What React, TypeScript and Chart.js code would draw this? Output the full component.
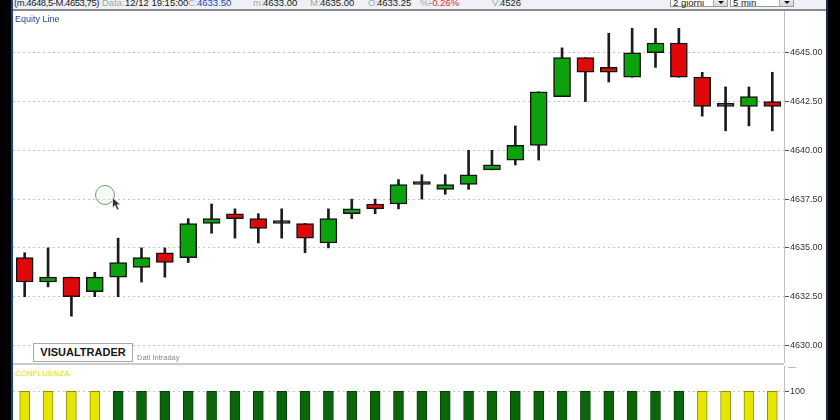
import React, { useEffect, useRef } from "react";
import { Chart, registerables } from "chart.js";

Chart.register(...registerables);

// ---- DATA ----
const times = [
  "19:10", "19:15", "19:20", "19:25", "19:30", "19:35", "19:40", "19:45", "19:50", "19:55",
  "20:00", "20:05", "20:10", "20:15", "20:20", "20:25", "20:30", "20:35", "20:40", "20:45",
  "20:50", "20:55", "21:00", "21:05", "21:10", "21:15", "21:20", "21:25", "21:30", "21:35",
  "21:40", "21:45", "21:50",
];
const openPrices = [
  4634.5, 4633.25, 4633.5, 4632.75, 4633.5, 4634.0, 4634.75, 4634.5, 4636.25, 4636.75,
  4636.5, 4636.25, 4636.25, 4635.25, 4636.75, 4637.25, 4637.25, 4638.25, 4638.0, 4638.25,
  4639.0, 4639.5, 4640.25, 4642.75, 4644.75, 4644.25, 4643.75, 4645.0, 4645.5, 4643.75,
  4642.25, 4642.25, 4642.5,
];
const highPrices = [
  4634.75, 4635.0, 4633.5, 4633.75, 4635.5, 4635.0, 4635.0, 4636.5, 4637.25, 4637.0,
  4636.75, 4637.0, 4636.25, 4637.0, 4637.5, 4637.5, 4638.5, 4638.75, 4638.75, 4640.0,
  4640.0, 4641.25, 4643.0, 4645.25, 4644.75, 4646.0, 4646.25, 4646.25, 4646.25, 4644.0,
  4643.25, 4643.25, 4644.0,
];
const lowPrices = [
  4632.5, 4633.0, 4631.5, 4632.5, 4632.5, 4633.25, 4633.5, 4634.25, 4635.75, 4635.5,
  4635.25, 4635.5, 4634.75, 4635.0, 4636.5, 4636.75, 4637.0, 4637.5, 4637.75, 4638.0,
  4639.0, 4639.25, 4639.5, 4642.75, 4642.5, 4643.5, 4643.75, 4644.25, 4643.75, 4641.75,
  4641.0, 4641.25, 4641.0,
];
const closePrices = [
  4633.25, 4633.5, 4632.5, 4633.5, 4634.25, 4634.5, 4634.25, 4636.25, 4636.5, 4636.5,
  4636.0, 4636.25, 4635.5, 4636.5, 4637.0, 4637.0, 4638.25, 4638.25, 4638.25, 4638.75,
  4639.25, 4640.25, 4643.0, 4644.75, 4644.0, 4644.0, 4645.0, 4645.5, 4643.75, 4642.25,
  4642.25, 4642.75, 4642.25,
];
const priceTicks = [4630, 4632.5, 4635, 4637.5, 4640, 4642.5, 4645];
const confluenzaValues = [
  100, 100, 100, 100, 100, 100, 100, 100, 100, 100, 100, 100, 100, 100, 100, 100, 100,
  100, 100, 100, 100, 100, 100, 100, 100, 100, 100, 100, 100, 100, 100, 100, 100,
];
// N = neutral, L = long
const confluenzaSignal = [
  "N", "N", "N", "N", "L", "L", "L", "L", "L", "L", "L", "L", "L", "L", "L", "L", "L",
  "L", "L", "L", "L", "L", "L", "L", "L", "L", "L", "L", "L", "N", "N", "N", "N",
];
const confluenzaTicks = [100];

const FONT = "'Liberation Sans', Arial, sans-serif";

const fitRight = (s: any) => {
  s.width = 44;
  s.paddingTop = 0;
  s.paddingBottom = 0;
};

function MainChart() {
  const ref = useRef<HTMLCanvasElement | null>(null);
  useEffect(() => {
    if (!ref.current) return;
    const bodyColors = openPrices.map((o, i) =>
      closePrices[i] > o ? "#0ca20c" : closePrices[i] < o ? "#e00808" : "#1a1a1a"
    );
    const chart = new Chart(ref.current, {
      type: "bar",
      data: {
        labels: times,
        datasets: [
          {
            label: "body",
            data: openPrices.map((o, i) => [o, closePrices[i]]) as any,
            backgroundColor: bodyColors,
            borderColor: "#141414",
            borderWidth: 1.5,
            borderSkipped: false,
            barThickness: 17,
            minBarLength: 3,
            grouped: false,
            order: 0,
          },
          {
            label: "wick",
            data: lowPrices.map((l, i) => [l, highPrices[i]]) as any,
            backgroundColor: "#1c1c1c",
            borderWidth: 0,
            barThickness: 2,
            grouped: false,
            order: 1,
          },
        ],
      },
      options: {
        animation: false,
        responsive: false,
        maintainAspectRatio: false,
        events: [],
        layout: { padding: 0 },
        plugins: { legend: { display: false }, tooltip: { enabled: false } },
        scales: {
          x: { display: false, offset: true },
          y: {
            position: "right",
            min: 4629.1,
            max: 4647.14,
            afterFit: fitRight,
            afterBuildTicks: (s: any) => {
              s.ticks = priceTicks.map((v) => ({ value: v }));
            },
            ticks: {
              callback: (v: any) => Number(v).toFixed(2),
              color: "#333",
              font: { family: FONT, size: 9 },
              padding: 1,
            },
            grid: {
              color: "#c4c4c4",
              lineWidth: 1,
              tickColor: "#555",
              tickLength: 5,
              tickWidth: 1,
            },
            border: { display: true, color: "#c0c0c0", dash: [2, 3] },
          },
        },
      },
    });
    return () => chart.destroy();
  }, []);
  return (
    <canvas
      ref={ref}
      width={815}
      height={352}
      style={{ position: "absolute", left: 13, top: 11, width: 815, height: 352 }}
    />
  );
}

function ConfluenzaChart() {
  const ref = useRef<HTMLCanvasElement | null>(null);
  useEffect(() => {
    if (!ref.current) return;
    const chart = new Chart(ref.current, {
      type: "bar",
      data: {
        labels: times,
        datasets: [
          {
            label: "CONFLUENZA",
            data: confluenzaValues,
            backgroundColor: confluenzaSignal.map((s) => (s === "N" ? "#e6e600" : "#0b650b")),
            borderColor: confluenzaSignal.map((s) => (s === "N" ? "#8e8e00" : "#044204")),
            borderWidth: 1,
            borderSkipped: false,
            barThickness: 10,
          },
        ],
      },
      options: {
        animation: false,
        responsive: false,
        maintainAspectRatio: false,
        events: [],
        layout: { padding: 0 },
        plugins: { legend: { display: false }, tooltip: { enabled: false } },
        scales: {
          x: { display: false, offset: true },
          y: {
            position: "right",
            min: 0,
            max: 134,
            afterFit: fitRight,
            afterBuildTicks: (s: any) => {
              s.ticks = confluenzaTicks.map((v) => ({ value: v }));
            },
            ticks: {
              callback: (v: any) => String(v),
              color: "#333",
              font: { family: FONT, size: 9 },
              padding: 1,
            },
            grid: {
              color: "#c4c4c4",
              lineWidth: 1,
              tickColor: "#555",
              tickLength: 5,
              tickWidth: 1,
            },
            border: { display: true, color: "#c0c0c0", dash: [2, 3] },
          },
        },
      },
    });
    return () => chart.destroy();
  }, []);
  return (
    <canvas
      ref={ref}
      width={815}
      height={100}
      style={{ position: "absolute", left: 13, top: 366, width: 815, height: 100 }}
    />
  );
}

const hdr = (left: number, text: string, color: string, ls = 0) => (
  <span
    key={left}
    style={{
      position: "absolute",
      left,
      top: -2,
      fontSize: 9.5,
      lineHeight: "10px",
      color,
      whiteSpace: "nowrap",
      letterSpacing: ls,
    }}
  >
    {text}
  </span>
);

function Dropdown({ left, width, label }: { left: number; width: number; label: string }) {
  return (
    <div
      style={{
        position: "absolute",
        left,
        top: -4,
        width,
        height: 11,
        background: "#fff",
        border: "1px solid #9a9a9a",
        boxSizing: "border-box",
      }}
    >
      <span style={{ position: "absolute", left: 2, top: 1, fontSize: 9.5, lineHeight: "10px", color: "#222" }}>
        {label}
      </span>
      <div
        style={{
          position: "absolute",
          right: 0,
          top: 0,
          width: 13,
          height: 9,
          background: "linear-gradient(#f4f4f4,#d8d8d8)",
          borderLeft: "1px solid #aaa",
        }}
      >
        <div
          style={{
            position: "absolute",
            left: 4,
            top: 4,
            width: 0,
            height: 0,
            borderLeft: "3px solid transparent",
            borderRight: "3px solid transparent",
            borderTop: "3px solid #111",
          }}
        />
      </div>
    </div>
  );
}

export default function App() {
  return (
    <div
      style={{
        position: "fixed",
        left: 0,
        top: 0,
        width: 840,
        height: 420,
        overflow: "hidden",
        background: "#fff",
        fontFamily: FONT,
      }}
    >
      {/* header */}
      <div style={{ position: "absolute", left: 11, top: 0, width: 817, height: 9, background: "#eef1f5" }}>
        {hdr(3, "(m.4648,5-M.4653,75)", "#1b1b2b", -0.45)}
        {hdr(91, "Data:", "#a8a8a8")}
        {hdr(114, "12/12 19:15:00", "#1b1b1b")}
        {hdr(177, "C:", "#a8a8a8")}
        {hdr(186, "4633.50", "#2a3fc0")}
        {hdr(242, "m:", "#a8a8a8")}
        {hdr(252, "4633.00", "#1b1b1b")}
        {hdr(299, "M:", "#a8a8a8")}
        {hdr(309, "4635.00", "#1b1b1b")}
        {hdr(357, "O:", "#a8a8a8")}
        {hdr(366, "4633.25", "#1b1b1b")}
        {hdr(409, "%:", "#a8a8a8")}
        {hdr(418, "-0.26%", "#d83434")}
        {hdr(481, "V:", "#a8a8a8")}
        {hdr(489, "4526", "#1b1b1b")}
        <Dropdown left={659} width={58} label="2 giorni" />
        <Dropdown left={719} width={64} label="5 min" />
      </div>
      <div style={{ position: "absolute", left: 11, top: 9, width: 817, height: 2, background: "#8a8a8a" }} />

      <MainChart />
      <ConfluenzaChart />

      {/* overlays */}
      <div style={{ position: "absolute", left: 15, top: 13, fontSize: 9, lineHeight: "12px", color: "#2a3fa0" }}>
        Equity Line
      </div>
      <div
        style={{
          position: "absolute",
          left: 95,
          top: 185,
          width: 20,
          height: 20,
          borderRadius: "50%",
          border: "1.5px solid #6f9f6f",
          boxSizing: "border-box",
          background: "rgba(220,235,220,0.25)",
        }}
      />
      <svg style={{ position: "absolute", left: 112, top: 197 }} width={10} height={15}>
        <polygon points="0.5,0.5 0.5,11 3,8.5 5,13 7,12 5,7.8 8.5,7.8" fill="#333" stroke="#eee" strokeWidth={0.8} />
      </svg>
      <div
        style={{
          position: "absolute",
          left: 33,
          top: 343,
          width: 100,
          height: 19,
          background: "#fff",
          border: "1px solid #a8a8a8",
          boxSizing: "border-box",
          textAlign: "center",
          fontSize: 11,
          fontWeight: "bold",
          lineHeight: "17px",
          color: "#151515",
        }}
      >
        VISUALTRADER
      </div>
      <div style={{ position: "absolute", left: 137, top: 353, fontSize: 7.5, lineHeight: "9px", color: "#8a8a8a" }}>
        Dati Intraday
      </div>
      <div style={{ position: "absolute", left: 13, top: 363, width: 771, height: 2, background: "#cccccc" }} />
      <div style={{ position: "absolute", left: 788, top: 362, fontSize: 8, lineHeight: "9px", color: "#777" }}>
        ---
      </div>
      <div style={{ position: "absolute", left: 15, top: 369, fontSize: 8, lineHeight: "9px", color: "#e2e200" }}>
        CONFLUENZA
      </div>

      {/* frame */}
      <div style={{ position: "absolute", left: 0, top: 0, width: 11, height: 420, background: "#000" }} />
      <div style={{ position: "absolute", left: 11, top: 0, width: 2, height: 420, background: "#1f3f8f" }} />
      <div style={{ position: "absolute", left: 826, top: 0, width: 2, height: 420, background: "#1a2a5a" }} />
      <div style={{ position: "absolute", left: 828, top: 0, width: 12, height: 420, background: "#000" }} />
    </div>
  );
}
